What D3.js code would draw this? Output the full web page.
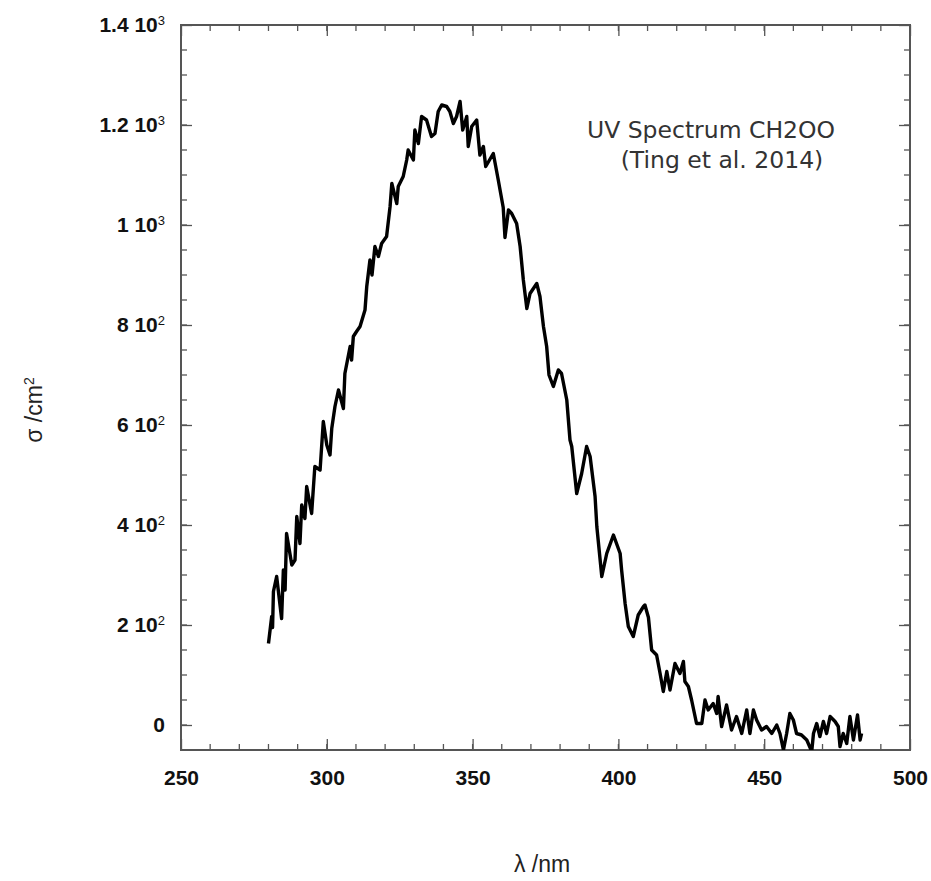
<!DOCTYPE html>
<html>
<head>
  <meta charset="utf-8">
  <script src="https://d3js.org/d3.v7.min.js"></script>
  <style>
  body{
    margin:0;
    background:#fff;
  }
  .tick text{
    font-family:"Liberation Sans", Arial, sans-serif;
    font-weight:bold;
    font-size:21px;
    fill:#111;
  }
  .tick line{
    stroke:#555;
    stroke-width:1.3;
  }
  .minor line{
    stroke:#555;
    stroke-width:1.3;
  }
  .frame{
    fill:none;
    stroke:#555;
    stroke-width:2;
  }
  .spectrum{
    fill:none;
    stroke:#000;
    stroke-width:3.4;
    stroke-linejoin:round;
  }
  .title{
    font-family:"Liberation Sans", Arial, sans-serif;
    font-size:23px;
    fill:#222;
  }
  .note{
    font-family:"DejaVu Sans", sans-serif;
    font-size:23.5px;
    fill:#333;
  }
  </style>
</head>
<body>
  <svg width="931" height="881"></svg>
<script>
// wavelength (nm) and cross section
var wavelength = [280,281.1,281.4,281.7,282.8,284.5,285.1,285.7,286.2,288,289.1,289.7,290.8,291.4,292.5,293.1,294.8,295.9,297.7,298.8,
  300,301.1,301.7,302.8,304,305.7,306.2,308,308.5,309.1,310.2,311.4,313.1,313.7,314.8,315.5,316.5,317.7,318.8,320.5,
  321.7,322.3,324,324.5,326.2,327.4,327.9,329.7,330.2,331.4,332.5,334.2,335.9,337.1,338.2,339.4,341.1,342.2,343.4,344.5,
  345.7,346.6,348,348.5,349.7,351.4,352.5,353.7,354.5,357.1,358.8,360.5,361.1,362.3,363.4,365.1,366.3,367.4,368.6,369.7,
  372,373.1,374.3,375.4,376.2,377.7,379.4,380.5,382.3,383.4,384,385.7,387.4,389.1,390.3,392,392.6,394.3,396,398.3,
  400.6,401.1,402.3,403.4,405.1,406.8,408.6,409.1,410.3,411.4,413.1,414.3,415.4,416.6,417.7,419.4,421.1,422.3,422.8,424,
  425.1,426.8,428.6,429.7,430.8,432.5,433.7,434.2,435.4,437.1,438.8,440.5,442.3,444,445.1,446.3,447.4,449.1,450.8,452.6,
  454.3,455.4,456.6,457.7,458.8,460,461.1,462.8,464.6,466.3,466.9,468,469.1,470.3,471.4,472.6,474.3,475.4,476,477.1,
  478.3,479.4,480.6,482,482.9,483.4];
var sigma = [163,217,195,267,297,213,310,270,383,320,330,417,363,440,413,477,423,517,510,607,
  560,540,593,637,670,633,703,757,730,777,787,797,830,877,930,900,957,937,963,977,
  1037,1083,1043,1077,1097,1130,1150,1130,1190,1163,1217,1210,1177,1183,1227,1240,1237,1227,1203,1217,
  1247,1190,1217,1157,1197,1210,1140,1157,1117,1143,1090,1035,975,1030,1023,1003,957,890,833,863,
  883,857,797,757,700,677,710,703,650,570,557,463,503,557,537,457,397,297,343,380,
  343,310,243,197,177,220,237,240,215,150,140,103,67,107,70,123,103,127,87,77,
  50,3,3,50,30,43,23,57,-3,40,-10,17,-17,30,-17,30,10,-10,-3,-17,
  0,-17,-50,-17,23,10,-17,-20,-30,-53,-17,3,-23,7,-17,17,7,-3,-43,-17,
  -37,17,-30,20,-30,-17];

var xTicks = [250,300,350,400,450,500];
var yTicks = [0,200,400,600,800,1000,1200,1400];
var yTickMantissa = ["0","2","4","6","8","1","1.2","1.4"];
var yTickExp = ["","2","2","2","2","3","3","3"];

var svg = d3.select("svg"),
    margin = {top:25, right:21, bottom:131, left:181},
    width = +svg.attr("width") - margin.left - margin.right,
    height = +svg.attr("height") - margin.top - margin.bottom;

var x = d3.scaleLinear().domain([250,500]).range([0,width]),
    y = d3.scaleLinear().domain([-50,1400]).range([height,0]);

var g = svg.append("g")
  .attr("transform","translate(" + margin.left + "," + margin.top + ")");

// minor ticks on all four sides
var xMinor = d3.range(250,501,10), yMinor = d3.range(-50,1401,50);
var minor = g.append("g").attr("class","minor");
minor.selectAll(".xb").data(xMinor).enter().append("line")
  .attr("x1",function(d){return x(d);}).attr("x2",function(d){return x(d);})
  .attr("y1",height).attr("y2",height-6);
minor.selectAll(".xt").data(xMinor).enter().append("line")
  .attr("x1",function(d){return x(d);}).attr("x2",function(d){return x(d);})
  .attr("y1",0).attr("y2",6);
minor.selectAll(".yl").data(yMinor).enter().append("line")
  .attr("y1",function(d){return y(d);}).attr("y2",function(d){return y(d);})
  .attr("x1",0).attr("x2",6);
minor.selectAll(".yr").data(yMinor).enter().append("line")
  .attr("y1",function(d){return y(d);}).attr("y2",function(d){return y(d);})
  .attr("x1",width).attr("x2",width-6);

// major ticks
g.append("g")
  .attr("transform","translate(0," + height + ")")
  .call(d3.axisBottom(x).tickValues(xTicks).tickSizeInner(-11).tickSizeOuter(0).tickPadding(20))
  .call(function(a){a.select(".domain").remove();});
g.append("g")
  .call(d3.axisTop(x).tickValues(xTicks).tickSizeInner(-11).tickSizeOuter(0).tickFormat(""))
  .call(function(a){a.select(".domain").remove();});
g.append("g")
  .attr("transform","translate(" + width + ",0)")
  .call(d3.axisRight(y).tickValues(yTicks).tickSizeInner(-11).tickSizeOuter(0).tickFormat(""))
  .call(function(a){a.select(".domain").remove();});

var yAxis = g.append("g")
  .call(d3.axisLeft(y).tickValues(yTicks).tickSizeInner(-11).tickSizeOuter(0).tickPadding(16))
  .call(function(a){a.select(".domain").remove();});

// labels like "1.2 10^3"
yAxis.selectAll(".tick text").each(function(d,i){
  var t = d3.select(this).text("");
  if (yTickExp[i] === "") { t.text(yTickMantissa[i]); return; }
  t.append("tspan").text(yTickMantissa[i] + " 10");
  t.append("tspan").attr("dy","-0.55em").attr("font-size","13px").attr("font-weight","normal").text(yTickExp[i]);
});

g.append("rect").attr("class","frame")
  .attr("x",0).attr("y",0).attr("width",width).attr("height",height);

g.append("clipPath").attr("id","plotClip")
  .append("rect").attr("width",width).attr("height",height);

var line = d3.line()
  .x(function(d,i){return x(wavelength[i]);})
  .y(function(d){return y(d);});

g.append("path")
  .datum(sigma)
  .attr("class","spectrum")
  .attr("clip-path","url(#plotClip)")
  .attr("d",line);

// axis titles
svg.append("text").attr("class","title")
  .attr("transform","translate(42,410) rotate(-90)")
  .attr("text-anchor","middle")
  .html('σ /cm<tspan dy="-0.6em" font-size="14px">2</tspan>');

svg.append("text").attr("class","title")
  .attr("x",542).attr("y",872)
  .attr("text-anchor","middle")
  .text("λ /nm");

// note
svg.append("text").attr("class","note")
  .attr("x",711).attr("y",138).attr("text-anchor","middle")
  .text("UV Spectrum CH2OO");
svg.append("text").attr("class","note")
  .attr("x",722).attr("y",168).attr("text-anchor","middle")
  .text("(Ting et al. 2014)");
</script>
</body>
</html>
